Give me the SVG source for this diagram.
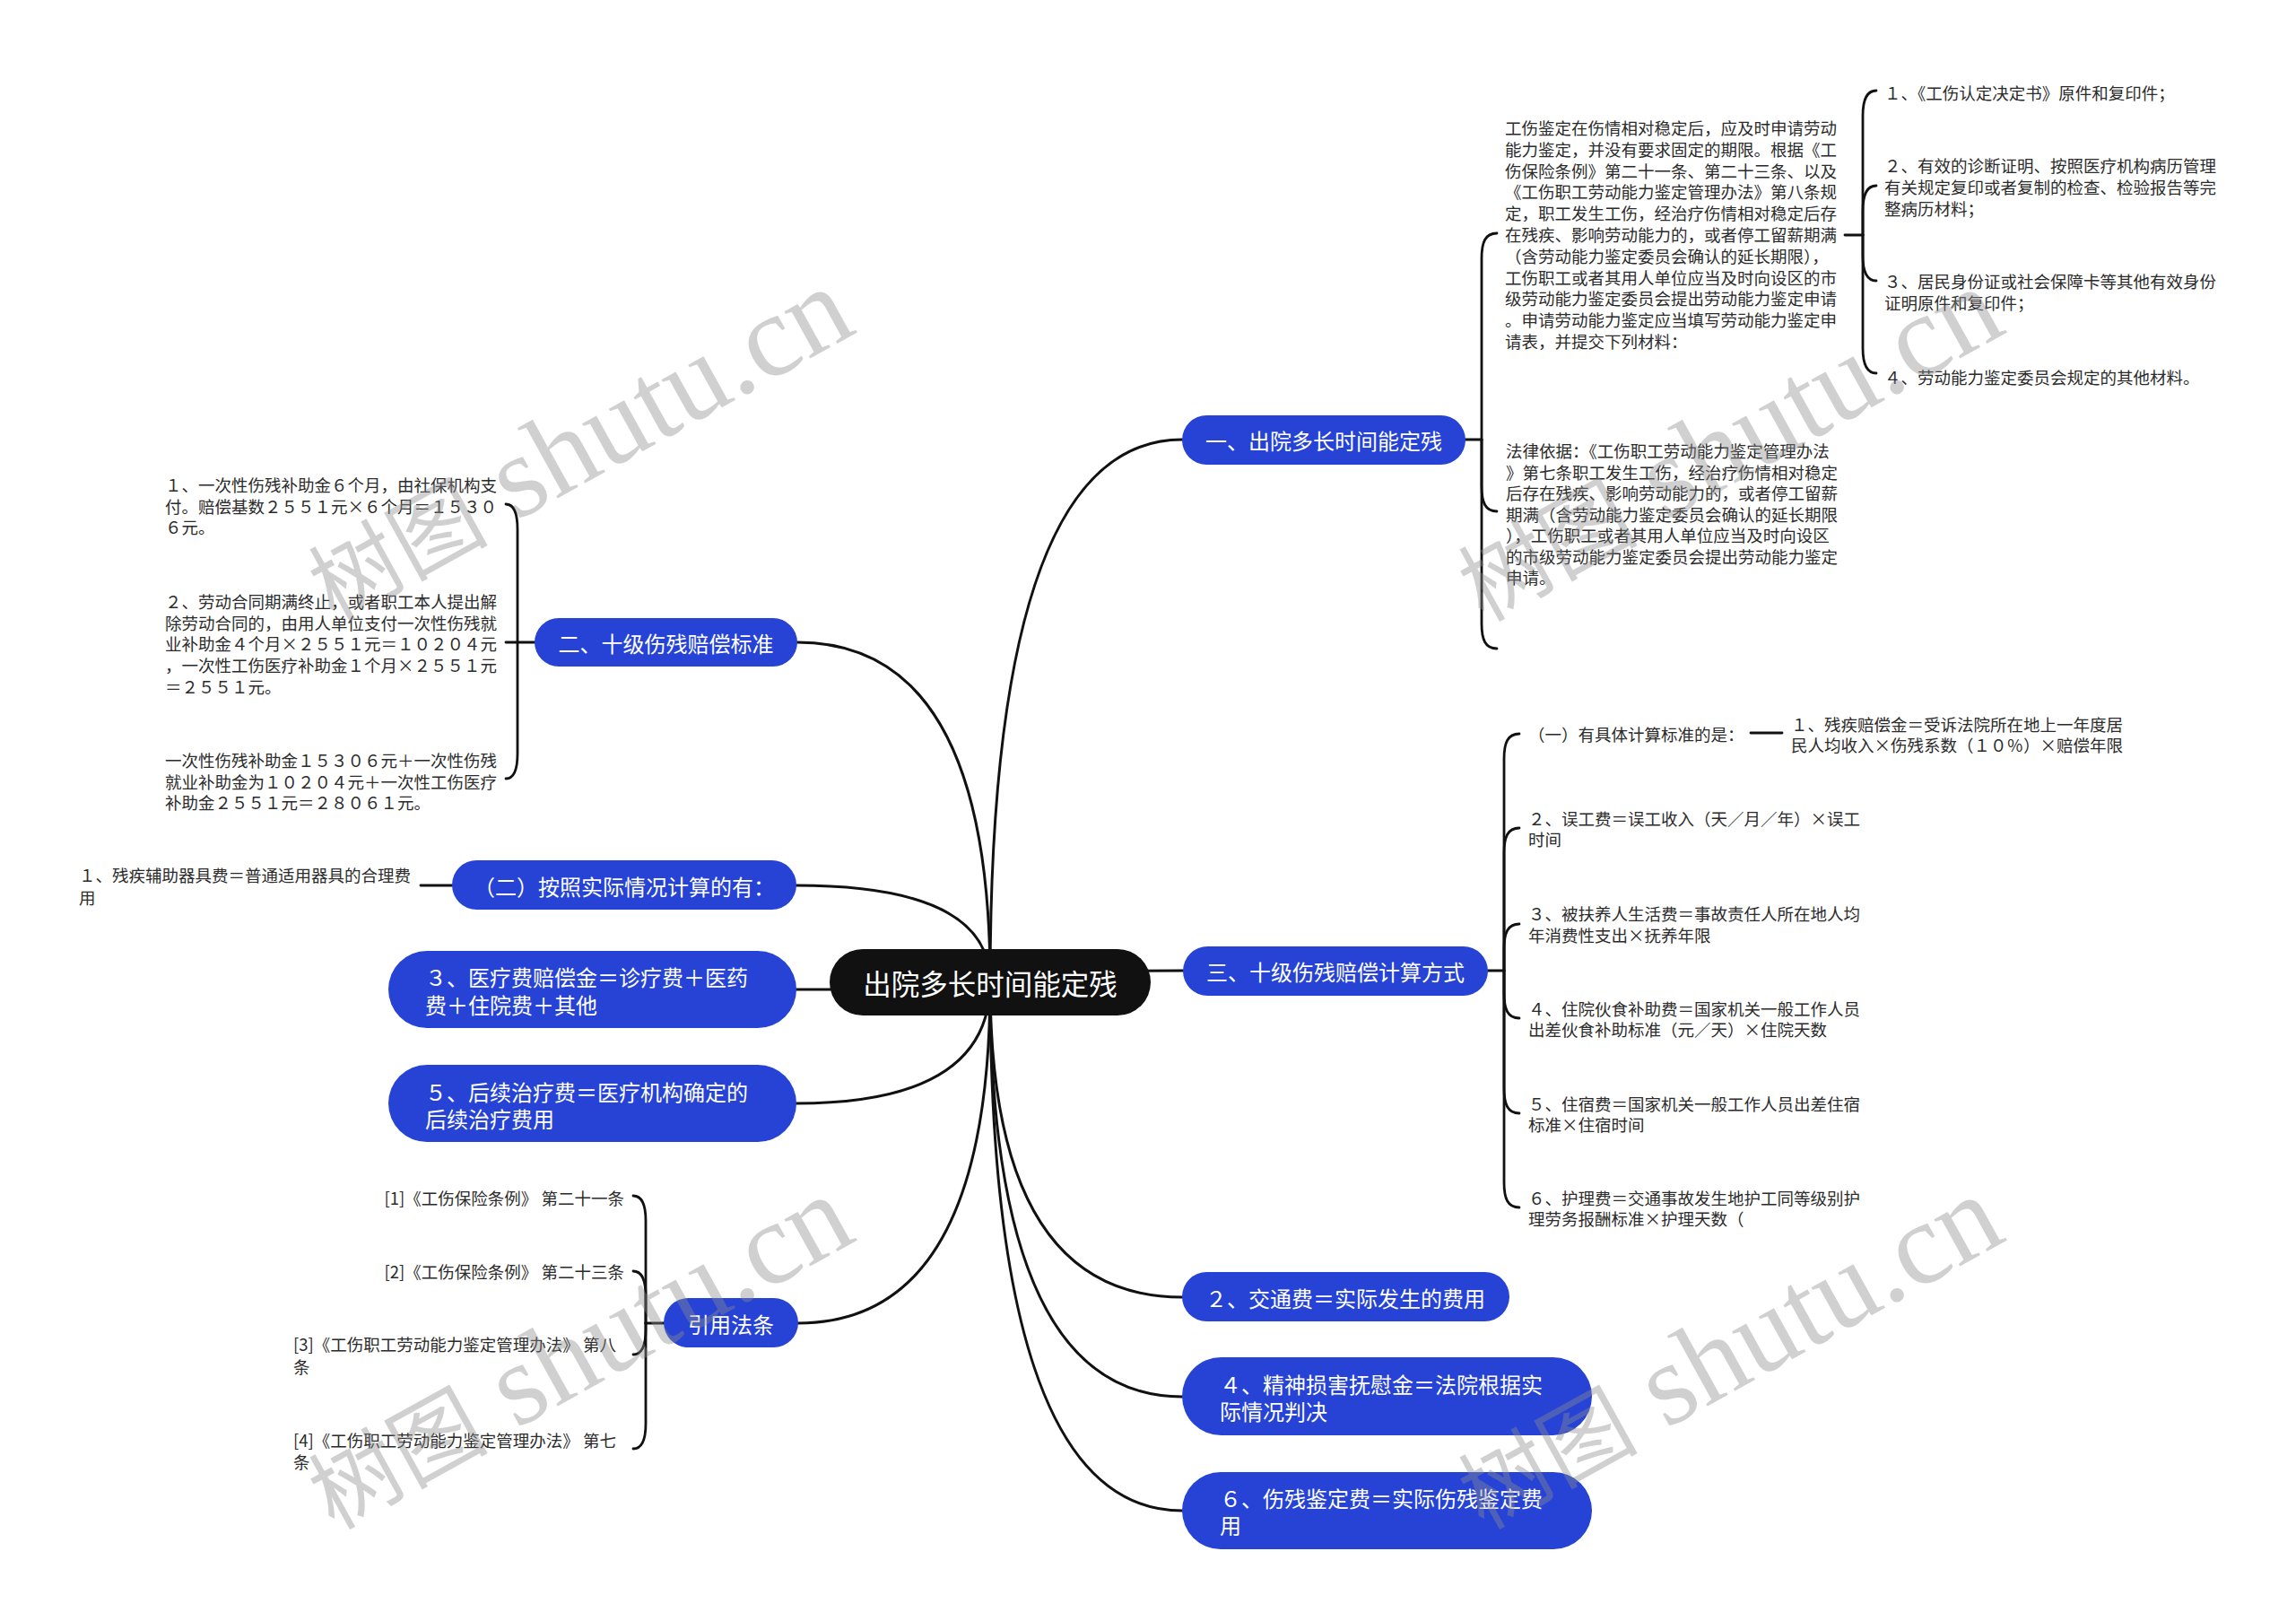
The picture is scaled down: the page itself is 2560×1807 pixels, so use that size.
<svg xmlns="http://www.w3.org/2000/svg" width="2560" height="1807" viewBox="0 0 2560 1807">
<style>
text { font-family: "Noto Sans CJK SC", "Noto Sans", sans-serif; dominant-baseline: central; }
.leaf { font-size: 18.5px; fill: #2b2b2b; }
.nt { font-size: 24px; fill: #ffffff; }
.ct { font-size: 31.5px; fill: #ffffff; }
.node { fill: #2643d6; }
.conn { fill: none; stroke: #111111; stroke-width: 3; stroke-linecap: round; }
.br { fill: none; stroke: #111111; stroke-width: 2.8; stroke-linecap: round; }
.wm { fill: #8c8c8c; opacity: 0.4; dominant-baseline: alphabetic; }
.wmc { font-family: "Noto Sans CJK SC", sans-serif; font-size: 100px; }
.wml { font-family: "Liberation Serif", serif; font-size: 130px; }
</style>
<rect x="0" y="0" width="2560" height="1807" fill="#ffffff"/>

<g id="connectors">
  <path class="conn" d="M1104,1095 Q1104,490 1318,490"/>
  <path class="conn" d="M1104,1095 Q1104,716 889,716"/>
  <path class="conn" d="M1104,1095 Q1104,987 888,987"/>
  <path class="conn" d="M1104,1095 Q1104,1103 888,1103"/>
  <path class="conn" d="M1104,1095 Q1104,1082 1319,1082"/>
  <path class="conn" d="M1104,1095 Q1104,1230 888,1230"/>
  <path class="conn" d="M1104,1095 Q1104,1475 890,1475"/>
  <path class="conn" d="M1104,1095 Q1104,1446 1318,1446"/>
  <path class="conn" d="M1104,1095 Q1104,1557 1318,1557"/>
  <path class="conn" d="M1104,1095 Q1104,1684 1318,1684"/>
  <path class="br" d="M1634,490 H1652"/>
  <path class="br" d="M1652,490 L1652,288 C1652,270 1656,260 1669,260"/>
  <path class="br" d="M1652,490 L1652,542 C1652,560 1656,570 1669,570"/>
  <path class="br" d="M1652,490 L1652,695 C1652,713 1656,723 1669,723"/>
  <path class="br" d="M2057,262 H2077"/>
  <path class="br" d="M2077,262 L2077,129 C2077,111 2081,101 2092,101"/>
  <path class="br" d="M2077,262 L2077,235 C2077,217 2081,207 2092,207"/>
  <path class="br" d="M2077,262 L2077,285 C2077,303 2081,313 2092,313"/>
  <path class="br" d="M2077,262 L2077,388 C2077,406 2081,416 2092,416"/>
  <path class="br" d="M1659,1082 H1677"/>
  <path class="br" d="M1677,1082 L1677,846 C1677,828 1681,818 1694,818"/>
  <path class="br" d="M1677,1082 L1677,951 C1677,933 1681,923 1694,923"/>
  <path class="br" d="M1677,1082 L1677,1058 C1677,1040 1681,1030 1694,1030"/>
  <path class="br" d="M1677,1082 L1677,1107 C1677,1125 1681,1135 1694,1135"/>
  <path class="br" d="M1677,1082 L1677,1213 C1677,1231 1681,1241 1694,1241"/>
  <path class="br" d="M1677,1082 L1677,1318 C1677,1336 1681,1346 1694,1346"/>
  <path class="br" d="M1952,817 H1987"/>
  <path class="br" d="M596,716 H577"/>
  <path class="br" d="M577,716 L577,590 C577,572 573,562 564,562"/>
  <path class="br" d="M577,716 H564"/>
  <path class="br" d="M577,716 L577,840 C577,858 573,868 564,868"/>
  <path class="br" d="M469,987 H504"/>
  <path class="br" d="M740,1475 H720"/>
  <path class="br" d="M720,1475 L720,1361 C720,1343 716,1333 706,1333"/>
  <path class="br" d="M720,1475 L720,1445 C720,1427 716,1417 706,1417"/>
  <path class="br" d="M720,1475 L720,1482 C720,1500 716,1510 706,1510"/>
  <path class="br" d="M720,1475 L720,1587 C720,1605 716,1615 706,1615"/>
</g>

<g id="root">
  <rect x="925" y="1058" width="358" height="74" rx="37" fill="#111111"/>
  <text class="ct" x="1104" y="1095" text-anchor="middle">出院多长时间能定残</text>
</g>

<g id="n1">
  <rect class="node" x="1318" y="463" width="316" height="55" rx="27.5"/>
  <text class="nt" x="1476" y="490" text-anchor="middle">一、出院多长时间能定残</text>
</g>
<g id="n1-a">
  <text class="leaf">
    <tspan x="1678" y="142">工伤鉴定在伤情相对稳定后，应及时申请劳动</tspan>
    <tspan x="1678" y="165.8">能力鉴定，并没有要求固定的期限。根据《工</tspan>
    <tspan x="1678" y="189.6">伤保险条例》第二十一条、第二十三条、以及</tspan>
    <tspan x="1678" y="213.4">《工伤职工劳动能力鉴定管理办法》第八条规</tspan>
    <tspan x="1678" y="237.2">定，职工发生工伤，经治疗伤情相对稳定后存</tspan>
    <tspan x="1678" y="261">在残疾、影响劳动能力的，或者停工留薪期满</tspan>
    <tspan x="1678" y="284.8">（含劳动能力鉴定委员会确认的延长期限），</tspan>
    <tspan x="1678" y="308.6">工伤职工或者其用人单位应当及时向设区的市</tspan>
    <tspan x="1678" y="332.4">级劳动能力鉴定委员会提出劳动能力鉴定申请</tspan>
    <tspan x="1678" y="356.2">。申请劳动能力鉴定应当填写劳动能力鉴定申</tspan>
    <tspan x="1678" y="380">请表，并提交下列材料：</tspan>
  </text>
</g>
<g id="n1-a1"><text class="leaf" x="2101" y="103">１、《工伤认定决定书》原件和复印件；</text></g>
<g id="n1-a2">
  <text class="leaf">
    <tspan x="2101" y="184">２、有效的诊断证明、按照医疗机构病历管理</tspan>
    <tspan x="2101" y="208">有关规定复印或者复制的检查、检验报告等完</tspan>
    <tspan x="2101" y="232">整病历材料；</tspan>
  </text>
</g>
<g id="n1-a3">
  <text class="leaf">
    <tspan x="2101" y="313">３、居民身份证或社会保障卡等其他有效身份</tspan>
    <tspan x="2101" y="337">证明原件和复印件；</tspan>
  </text>
</g>
<g id="n1-a4"><text class="leaf" x="2101" y="420">４、劳动能力鉴定委员会规定的其他材料。</text></g>
<g id="n1-b">
  <text class="leaf">
    <tspan x="1679" y="502">法律依据：《工伤职工劳动能力鉴定管理办法</tspan>
    <tspan x="1679" y="525.5">》第七条职工发生工伤，经治疗伤情相对稳定</tspan>
    <tspan x="1679" y="549">后存在残疾、影响劳动能力的，或者停工留薪</tspan>
    <tspan x="1679" y="572.5">期满（含劳动能力鉴定委员会确认的延长期限</tspan>
    <tspan x="1679" y="596">），工伤职工或者其用人单位应当及时向设区</tspan>
    <tspan x="1679" y="619.5">的市级劳动能力鉴定委员会提出劳动能力鉴定</tspan>
    <tspan x="1679" y="643">申请。</tspan>
  </text>
</g>

<g id="n2">
  <rect class="node" x="596" y="689" width="293" height="54" rx="27"/>
  <text class="nt" x="742.5" y="716" text-anchor="middle">二、十级伤残赔偿标准</text>
</g>
<g id="n2-1">
  <text class="leaf">
    <tspan x="184" y="540">１、一次性伤残补助金６个月，由社保机构支</tspan>
    <tspan x="184" y="563.5">付。赔偿基数２５５１元×６个月＝１５３０</tspan>
    <tspan x="184" y="587">６元。</tspan>
  </text>
</g>
<g id="n2-2">
  <text class="leaf">
    <tspan x="184" y="670">２、劳动合同期满终止，或者职工本人提出解</tspan>
    <tspan x="184" y="693.7">除劳动合同的，由用人单位支付一次性伤残就</tspan>
    <tspan x="184" y="717.4">业补助金４个月×２５５１元＝１０２０４元</tspan>
    <tspan x="184" y="741">，一次性工伤医疗补助金１个月×２５５１元</tspan>
    <tspan x="184" y="764.8">＝２５５１元。</tspan>
  </text>
</g>
<g id="n2-3">
  <text class="leaf">
    <tspan x="184" y="847">一次性伤残补助金１５３０６元＋一次性伤残</tspan>
    <tspan x="184" y="870.5">就业补助金为１０２０４元＋一次性工伤医疗</tspan>
    <tspan x="184" y="894">补助金２５５１元＝２８０６１元。</tspan>
  </text>
</g>

<g id="n-actual">
  <rect class="node" x="504" y="959" width="384" height="55" rx="27.5"/>
  <text class="nt" x="696" y="987" text-anchor="middle">（二）按照实际情况计算的有：</text>
</g>
<g id="n-actual-1">
  <text class="leaf">
    <tspan x="88" y="975">１、残疾辅助器具费＝普通适用器具的合理费</tspan>
    <tspan x="88" y="1000">用</tspan>
  </text>
</g>

<g id="n-med">
  <rect class="node" x="433" y="1060" width="455" height="86" rx="43"/>
  <text class="nt">
    <tspan x="474" y="1088">３、医疗费赔偿金＝诊疗费＋医药</tspan>
    <tspan x="474" y="1119">费＋住院费＋其他</tspan>
  </text>
</g>
<g id="n-follow">
  <rect class="node" x="433" y="1187" width="455" height="86" rx="43"/>
  <text class="nt">
    <tspan x="474" y="1216">５、后续治疗费＝医疗机构确定的</tspan>
    <tspan x="474" y="1246">后续治疗费用</tspan>
  </text>
</g>

<g id="n-law">
  <rect class="node" x="740" y="1447" width="150" height="55" rx="27.5"/>
  <text class="nt" x="815" y="1475" text-anchor="middle">引用法条</text>
</g>
<g id="n-law-1"><text class="leaf" x="696" y="1335" text-anchor="end">[1]《工伤保险条例》 第二十一条</text></g>
<g id="n-law-2"><text class="leaf" x="696" y="1417" text-anchor="end">[2]《工伤保险条例》 第二十三条</text></g>
<g id="n-law-3">
  <text class="leaf">
    <tspan x="327" y="1498">[3]《工伤职工劳动能力鉴定管理办法》 第八</tspan>
    <tspan x="327" y="1523">条</tspan>
  </text>
</g>
<g id="n-law-4">
  <text class="leaf">
    <tspan x="327" y="1605">[4]《工伤职工劳动能力鉴定管理办法》 第七</tspan>
    <tspan x="327" y="1629">条</tspan>
  </text>
</g>

<g id="n3">
  <rect class="node" x="1319" y="1055" width="340" height="55" rx="27.5"/>
  <text class="nt" x="1489" y="1082" text-anchor="middle">三、十级伤残赔偿计算方式</text>
</g>
<g id="n3-1"><text class="leaf" x="1704" y="818">（一）有具体计算标准的是：</text></g>
<g id="n3-1-1">
  <text class="leaf">
    <tspan x="1997" y="807">１、残疾赔偿金＝受诉法院所在地上一年度居</tspan>
    <tspan x="1997" y="830">民人均收入×伤残系数（１０％）×赔偿年限</tspan>
  </text>
</g>
<g id="n3-2">
  <text class="leaf">
    <tspan x="1704" y="912">２、误工费＝误工收入（天／月／年）×误工</tspan>
    <tspan x="1704" y="935">时间</tspan>
  </text>
</g>
<g id="n3-3">
  <text class="leaf">
    <tspan x="1704" y="1018">３、被扶养人生活费＝事故责任人所在地人均</tspan>
    <tspan x="1704" y="1042">年消费性支出×抚养年限</tspan>
  </text>
</g>
<g id="n3-4">
  <text class="leaf">
    <tspan x="1704" y="1124">４、住院伙食补助费＝国家机关一般工作人员</tspan>
    <tspan x="1704" y="1147">出差伙食补助标准（元／天）×住院天数</tspan>
  </text>
</g>
<g id="n3-5">
  <text class="leaf">
    <tspan x="1704" y="1230">５、住宿费＝国家机关一般工作人员出差住宿</tspan>
    <tspan x="1704" y="1253">标准×住宿时间</tspan>
  </text>
</g>
<g id="n3-6">
  <text class="leaf">
    <tspan x="1704" y="1335">６、护理费＝交通事故发生地护工同等级别护</tspan>
    <tspan x="1704" y="1358">理劳务报酬标准×护理天数（</tspan>
  </text>
</g>

<g id="n-traffic">
  <rect class="node" x="1318" y="1418" width="365" height="55" rx="27.5"/>
  <text class="nt" x="1500" y="1446" text-anchor="middle">２、交通费＝实际发生的费用</text>
</g>
<g id="n-mental">
  <rect class="node" x="1318" y="1513" width="457" height="87" rx="43.5"/>
  <text class="nt">
    <tspan x="1360" y="1542">４、精神损害抚慰金＝法院根据实</tspan>
    <tspan x="1360" y="1572">际情况判决</tspan>
  </text>
</g>
<g id="n-appraisal">
  <rect class="node" x="1318" y="1641" width="457" height="86" rx="43"/>
  <text class="nt">
    <tspan x="1360" y="1669">６、伤残鉴定费＝实际伤残鉴定费</tspan>
    <tspan x="1360" y="1699">用</tspan>
  </text>
</g>

<g id="watermarks">
  <text class="wm" transform="translate(372,694) rotate(-29)"><tspan class="wmc">树图</tspan><tspan class="wml"> shutu.cn</tspan></text>
  <text class="wm" transform="translate(1654,694) rotate(-29)"><tspan class="wmc">树图</tspan><tspan class="wml"> shutu.cn</tspan></text>
  <text class="wm" transform="translate(372,1706) rotate(-29)"><tspan class="wmc">树图</tspan><tspan class="wml"> shutu.cn</tspan></text>
  <text class="wm" transform="translate(1654,1706) rotate(-29)"><tspan class="wmc">树图</tspan><tspan class="wml"> shutu.cn</tspan></text>
</g>
</svg>
